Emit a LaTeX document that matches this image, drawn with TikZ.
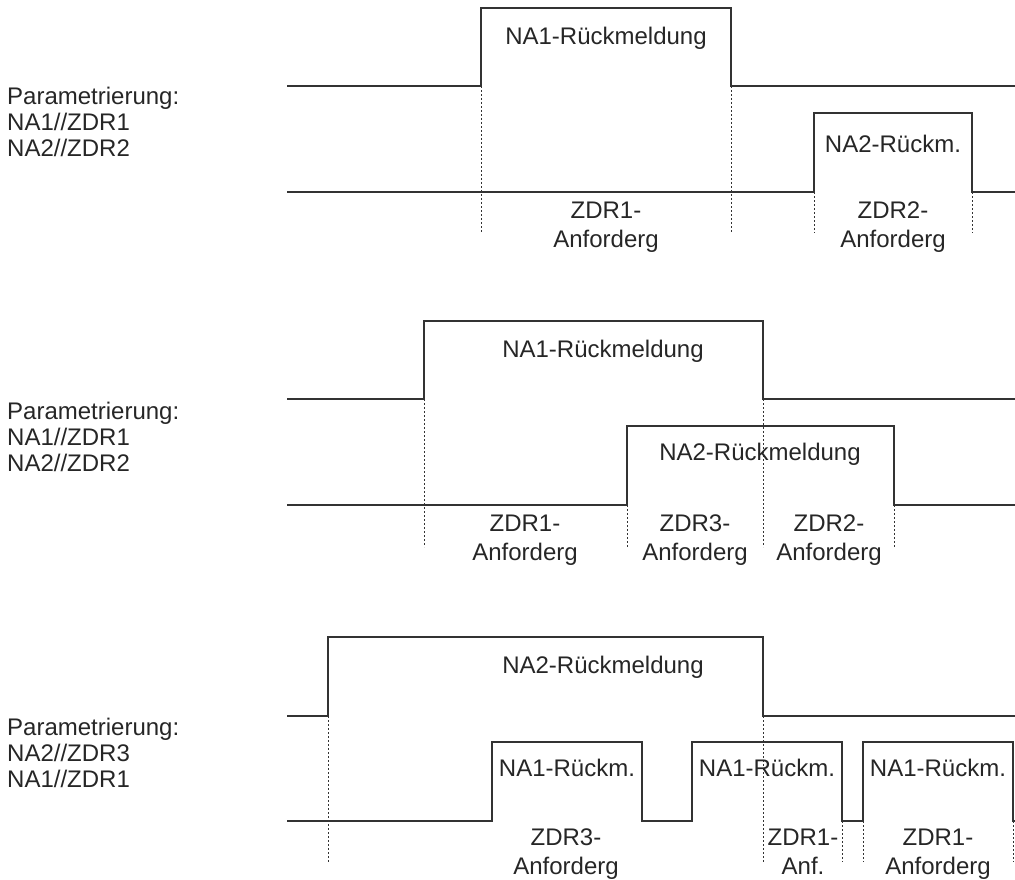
\documentclass[tikz,border=0pt]{standalone}
\usepackage{fontspec}
\setmainfont{Liberation Sans}
\begin{document}
\begin{tikzpicture}[x=1pt,y=-1pt,
    sig/.style={line width=1.3pt,black!80},
    guide/.style={line width=1pt,black!80,dash pattern=on 2pt off 2pt},
    txt/.style={inner sep=0pt,text=black!85,font=\fontsize{24}{26}\selectfont,anchor=base},
    paramtext/.style={txt,align=left,anchor=base west},
    zdr/.style={txt,align=center,font=\fontsize{24}{29}\selectfont}]
  \useasboundingbox (0,0) rectangle (1015,880);
  % first case
  \draw[guide] (481,86) -- (481,233) (731,86) -- (731,233)
    (814,192) -- (814,233) (972,192) -- (972,233);
  \draw[sig] (287,86) -- (481,86) -- (481,8) -- (731,8) -- (731,86) -- (1015,86);
  \draw[sig] (287,192) -- (814,192) -- (814,113) -- (972,113) -- (972,192) -- (1015,192);
  \node[paramtext] (paramA) at (7,157) {Parametrierung:\\NA1//ZDR1\\NA2//ZDR2};
  \node[txt] (naA1) at (606,45) {NA1-Rückmeldung};
  \node[txt] (naA2) at (893,153) {NA2-Rückm.};
  \node[zdr] (zdrA1) at (606,247) {ZDR1-\\Anforderg};
  \node[zdr] (zdrA2) at (893,247) {ZDR2-\\Anforderg};
  % second case
  \draw[guide] (424,399) -- (424,547) (627,505) -- (627,547)
    (763,399) -- (763,547) (894,505) -- (894,547);
  \draw[sig] (287,399) -- (424,399) -- (424,321) -- (763,321) -- (763,399) -- (1015,399);
  \draw[sig] (287,505) -- (627,505) -- (627,426) -- (894,426) -- (894,505) -- (1015,505);
  \node[paramtext] (paramB) at (7,471) {Parametrierung:\\NA1//ZDR1\\NA2//ZDR2};
  \node[txt] (naB1) at (603,357) {NA1-Rückmeldung};
  \node[txt] (naB2) at (760,460) {NA2-Rückmeldung};
  \node[zdr] (zdrB1) at (525,560) {ZDR1-\\Anforderg};
  \node[zdr] (zdrB3) at (695,560) {ZDR3-\\Anforderg};
  \node[zdr] (zdrB2) at (829,560) {ZDR2-\\Anforderg};
  % third case
  \draw[guide] (328,716) -- (328,862) (763,716) -- (763,862)
    (842,821) -- (842,862) (863,821) -- (863,862) (1013,821) -- (1013,862);
  \draw[sig] (287,716) -- (328,716) -- (328,637) -- (763,637) -- (763,716) -- (1015,716);
  \draw[sig] (287,821) -- (492,821) -- (492,742) -- (642,742) -- (642,821)
    -- (692,821) -- (692,742) -- (842,742) -- (842,821)
    -- (863,821) -- (863,742) -- (1013,742) -- (1013,821) -- (1015,821);
  \node[paramtext] (paramC) at (7,787) {Parametrierung:\\NA2//ZDR3\\NA1//ZDR1};
  \node[txt] (naC2) at (603,673) {NA2-Rückmeldung};
  \node[txt] (naC1a) at (567,776) {NA1-Rückm.};
  \node[txt] (naC1b) at (767,776) {NA1-Rückm.};
  \node[txt] (naC1c) at (938,776) {NA1-Rückm.};
  \node[zdr] (zdrC3) at (566,874) {ZDR3-\\Anforderg};
  \node[zdr] (zdrC1a) at (803,874) {ZDR1-\\Anf.};
  \node[zdr] (zdrC1b) at (938,874) {ZDR1-\\Anforderg};
\end{tikzpicture}
\end{document}
